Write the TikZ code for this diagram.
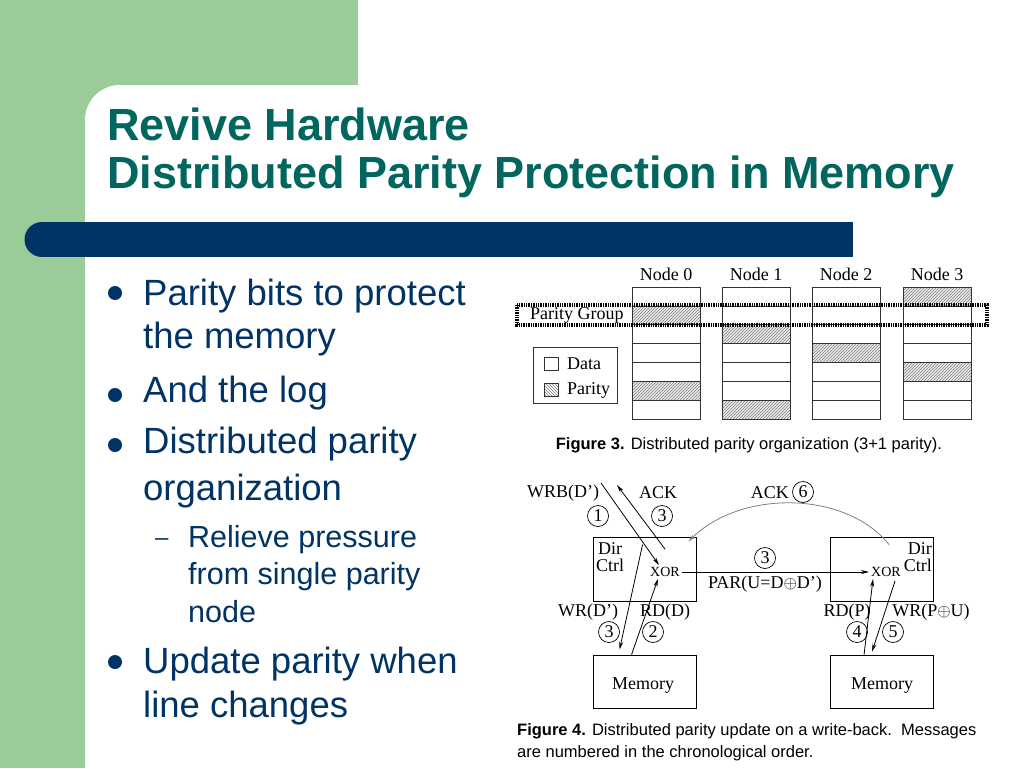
\documentclass[tikz,border=0pt]{standalone}
\usepackage{fontspec}
\setmainfont{Liberation Sans}
\newfontfamily\figfont{Liberation Serif}
\usetikzlibrary{arrows.meta,patterns,calc}
\definecolor{slidegreen}{RGB}{153,204,153}
\definecolor{slidenavy}{RGB}{0,51,102}
\definecolor{titleteal}{RGB}{0,102,94}

\begin{document}
\begin{tikzpicture}[x=1pt,y=-1pt,
        slidetitle/.style={anchor=base west,align=left,text=titleteal,font=\fontsize{45}{48}\selectfont\bfseries,inner sep=0pt},
        bullettext/.style={anchor=base west,align=left,text=slidenavy,font=\fontsize{36.5}{45}\selectfont,inner sep=0pt},
        subtext/.style={anchor=base west,align=left,text=slidenavy,font=\fontsize{30.5}{37.5}\selectfont,inner sep=0pt},
        bulletdot/.style={circle,fill=slidenavy,inner sep=0pt,minimum size=14pt},
        figlabel/.style={font=\figfont\fontsize{18}{16.5}\selectfont,inner sep=0pt},
        seqno/.style={circle,draw,line width=0.7pt,inner sep=0pt,minimum size=21pt,font=\figfont\fontsize{18}{18}\selectfont},
        xorgate/.style={font=\figfont\fontsize{14}{14}\selectfont,inner sep=2pt},
        unitbox/.style={draw,line width=0.9pt,minimum width=103pt},
        msg/.style={line width=0.8pt,-{Stealth[length=8pt,width=4pt]}},
        figcaption/.style={anchor=base west,align=left,font=\fontsize{16.5}{21.5}\selectfont,inner sep=0pt}]
        \useasboundingbox (0,0) rectangle (1024,768);
        % slide background
        \fill[white] (0,0) rectangle (1024,768);
        \fill[slidegreen] (0,0) rectangle (358,85);
        \fill[slidegreen] (0,0) rectangle (130,768);
        \fill[white,rounded corners=35pt] (85,800) -- (85,85) -- (420,85) -- (420,800) -- cycle;
        \fill[slidenavy] (42,222) rectangle (853,257);
        \fill[slidenavy] (42,239.5) circle (17.5);
        % multi-line nodes sit on the baseline of their last line
        \node[slidetitle] (title) at (107,188) {Revive Hardware\\Distributed Parity Protection in Memory};
        % bullets
        \node[bulletdot] (dot1) at (115,293) {};
        \node[bulletdot] (dot2) at (115,395) {};
        \node[bulletdot] (dot3) at (115,445) {};
        \node[bulletdot] (dot4) at (115,662) {};
        \node[bullettext,font=\fontsize{36.5}{43}\selectfont] (item1) at (143,348) {Parity bits to protect\\the memory};
        \node[bullettext] (item2) at (143,402) {And the log};
        \node[bullettext,font=\fontsize{36.5}{47}\selectfont] (item3) at (143,500) {Distributed parity\\organization};
        \node[subtext,font=\fontsize{24}{24}\selectfont] (dash1) at (155,545) {–};
        \node[subtext] (sub1) at (188,622) {Relieve pressure\\from single parity\\node};
        \node[bullettext,font=\fontsize{36.5}{44}\selectfont] (item4) at (143,717) {Update parity when\\line changes};
        % figure 3
        \foreach \n/\x in {0/632,1/722,2/812,3/903} {
            \node[figlabel] (head\n) at (\x+34,274) {Node \n};
            \foreach \r in {0,...,6} {
                \pgfmathtruncatemacro\p{mod(\r-\n+3,4)}
                \ifnum\p=0
                    \fill[gray!15] (\x,287+18.86*\r) rectangle ++(68,18.86);
                    \fill[pattern=north east lines,pattern color=gray] (\x,287+18.86*\r) rectangle ++(68,18.86);
                \fi
                \draw[line width=0.7pt,black!80] (\x,287+18.86*\r) rectangle ++(68,18.86);
            }
        }
        \draw[line width=3.2pt,dash pattern=on 1.4pt off 1pt] (517,305) rectangle (987,325);
        \node[figlabel,anchor=west] (pgroup) at (530,315) {Parity Group};
        \draw[line width=0.7pt,black!80] (533,347) rectangle (617,403);
        \draw[line width=0.7pt,black!80] (544,357) rectangle ++(14,13);
        \fill[pattern=north west lines,pattern color=gray] (544,383) rectangle ++(14,13);
        \draw[line width=0.7pt,black!80] (544,383) rectangle ++(14,13);
        \node[figlabel,anchor=west] (keydata) at (567,364) {Data};
        \node[figlabel,anchor=west] (keypar) at (567,390) {Parity};
        \node[anchor=center,font=\fontsize{16.5}{20}\selectfont] (cap3) at (749,445) {\textbf{Figure 3.} Distributed parity organization (3+1 parity).};
        % figure 4
        \node[unitbox,minimum height=64pt] (ldir) at (644.5,569) {};
        \node[unitbox,minimum height=53pt] (lmem) at (644.5,681.5) {};
        \node[unitbox,minimum height=64pt] (rdir) at (882,569) {};
        \node[unitbox,minimum height=53pt] (rmem) at (882,681.5) {};
        \node[figlabel,align=center] (ldirtxt) at (610,557) {Dir\\Ctrl};
        \node[figlabel,align=right,anchor=east] (rdirtxt) at (932,557) {Dir\\Ctrl};
        \node[figlabel] (lmemtxt) at (643,686) {Memory};
        \node[figlabel] (rmemtxt) at (882,686) {Memory};
        \node[xorgate] (lxor) at (665,572) {XOR};
        \node[xorgate] (rxor) at (886,572) {XOR};
        \coordinate (wrbin) at (601,483);
        \coordinate (ackout) at (617,485);
        \draw[msg] (wrbin) -- ([xshift=-6pt]lxor.north);
        \draw[msg] ([yshift=16pt]lxor.north) -- (ackout);
        \draw[msg] ($(ldir.north west)+(50,8)$) -- ($(lmem.north west)+(27,-5)$);
        \draw[msg] ($(lmem.north west)+(39,0)$) -- ([xshift=-7pt]lxor.south);
        \draw[msg] (lxor.east) -- (rxor.west);
        \draw[msg] ($(rmem.north west)+(34,0)$) -- ([xshift=-13pt]rxor.south);
        \draw[msg] ([xshift=9pt,yshift=-2pt]rxor.south) -- ($(rmem.north west)+(42,-3)$);
        \draw[msg,gray] ($(rdir.north west)+(59,8)$) .. controls (845,490) and (740,490) .. ($(ldir.north east)+(-8,5)$);
        \node[figlabel] (wrblbl) at (563,493) {WRB(D’)};
        \node[seqno] (s1) at (598,516) {1};
        \node[figlabel] (acklbl) at (658,493) {ACK};
        \node[seqno] (s3a) at (662,516) {3};
        \node[figlabel,anchor=east] (ack6lbl) at (789,493) {ACK};
        \node[seqno] (s6) at (803,492) {6};
        \node[seqno] (s3b) at (765,558) {3};
        \node[figlabel] (parlbl) at (765,584) {PAR(U=D$\oplus$D’)};
        \node[figlabel] (wrdlbl) at (588,612) {WR(D’)};
        \node[seqno] (s3c) at (609,632) {3};
        \node[figlabel] (rddlbl) at (665,612) {RD(D)};
        \node[seqno] (s2) at (653,632) {2};
        \node[figlabel] (rdplbl) at (847,612) {RD(P)};
        \node[seqno] (s4) at (857,632) {4};
        \node[figlabel] (wrplbl) at (931,612) {WR(P$\oplus$U)};
        \node[seqno] (s5) at (893,632) {5};
        \node[figcaption] (cap4) at (517,757) {\textbf{Figure 4.} Distributed parity update on a write-back.\ \ Messages\\are numbered in the chronological order.};
\end{tikzpicture}
\end{document}
